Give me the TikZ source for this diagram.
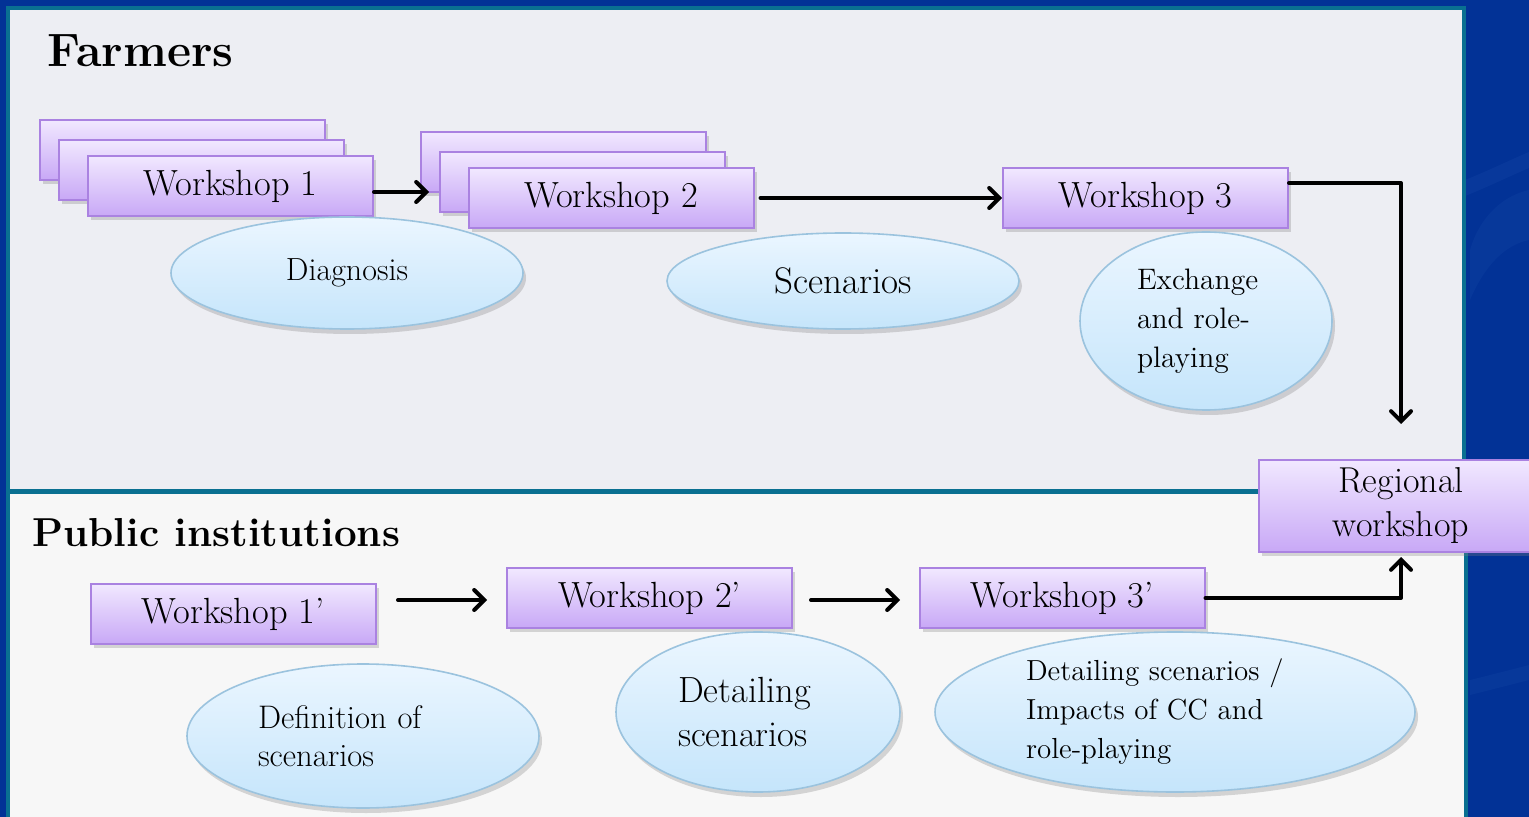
\documentclass[tikz,border=0pt]{standalone}
\usetikzlibrary{shapes.geometric,arrows.meta,shadows,calc}
\definecolor{bgblue}{RGB}{2,50,150}
\definecolor{bgblue2}{RGB}{20,70,165}
\definecolor{teal}{RGB}{10,112,145}
\definecolor{panelA}{RGB}{237,238,243}
\definecolor{panelB}{RGB}{247,247,247}
\definecolor{boxline}{RGB}{170,130,225}
\definecolor{boxtop}{RGB}{241,232,255}
\definecolor{boxbot}{RGB}{200,168,246}
\definecolor{elline}{RGB}{155,195,222}
\definecolor{eltop}{RGB}{235,246,255}
\definecolor{elbot}{RGB}{197,229,251}
\tikzset{
  wbox/.style={rectangle, draw=boxline, line width=1pt, top color=boxtop, bottom color=boxbot,
    minimum width=142.5pt, minimum height=30pt, inner sep=0pt,
    font=\fontsize{18.2}{22}\selectfont,
    drop shadow={opacity=0.3, shadow xshift=1.5pt, shadow yshift=-2pt}},
  ell/.style={ellipse, draw=elline, line width=0.8pt, top color=eltop, bottom color=elbot,
    inner sep=0pt, align=left,
    drop shadow={opacity=0.3, shadow xshift=1.5pt, shadow yshift=-2.5pt}},
  conn/.style={line width=2pt, line cap=round, line join=round,
    -{Straight Barb[length=5pt,width=10pt,line cap=round]}},
  ttl/.style={font=\fontsize{23.4}{28}\selectfont\bfseries, anchor=base west, inner sep=0pt}
}
\begin{document}
\begin{tikzpicture}[x=0.5pt,y=-0.5pt]
\useasboundingbox (0,0) rectangle (1529,817);
% background
\fill[bgblue] (0,0) rectangle (1529,817);
\fill[bgblue2,opacity=0.35] (1465,180) .. controls (1490,170) and (1510,160) .. (1529,152) -- (1529,168) .. controls (1510,176) and (1490,186) .. (1465,196) -- cycle;
\fill[bgblue2,opacity=0.3] (1470,250) .. controls (1480,215) and (1505,195) .. (1529,190) -- (1529,240) .. controls (1505,245) and (1485,265) .. (1470,300) -- cycle;
\fill[bgblue2,opacity=0.3] (1470,680) .. controls (1490,675) and (1510,670) .. (1529,665) -- (1529,680) .. controls (1510,685) and (1490,690) .. (1470,695) -- cycle;
% panels
\filldraw[fill=panelA, draw=teal, line width=2pt] (8,8) rectangle (1464,491);
\filldraw[fill=panelB, draw=teal, line width=2pt] (8,492) rectangle (1466,830);
% titles
\node[ttl] (farm) at (47,67) {Farmers};
\node[ttl, font=\fontsize{20.2}{24}\selectfont\bfseries] (pub) at (32,546) {Public institutions};
% workshop stacks
\node[wbox] (w1a) at (182.5,150) {};
\node[wbox] (w1b) at (201.5,170) {};
\node[wbox] (w1) at (230.5,186) {Workshop 1};
\node[wbox] (w2a) at (563.5,162) {};
\node[wbox] (w2b) at (582.5,182) {};
\node[wbox] (w2) at (611,198) {Workshop 2};
\node[wbox] (w3) at (1145.5,198) {Workshop 3};
\node[wbox] (w1p) at (233,614) {Workshop 1’};
\node[wbox] (w2p) at (649.5,598) {Workshop 2’};
\node[wbox] (w3p) at (1062,598) {Workshop 3’};
% ellipses
\node[ell, minimum width=176pt, minimum height=56pt, font=\fontsize{16}{19}\selectfont] (diag) at (347,273) {Diagnosis};
\node[ell, minimum width=176pt, minimum height=48pt, font=\fontsize{18.5}{22}\selectfont] (scen) at (843,281) {Scenarios};
\node[ell, minimum width=126pt, minimum height=89pt, text width=69pt, font=\fontsize{14.8}{19.5}\selectfont] (exch) at (1206,321) {Exchange\\ and role-\\ playing};
\node[ell, minimum width=176pt, minimum height=72pt, text width=105pt, font=\fontsize{16.3}{19}\selectfont] (defn) at (363,736) {Definition of\\ scenarios};
\node[ell, minimum width=142pt, minimum height=80pt, text width=80pt, font=\fontsize{18.2}{22}\selectfont] (det) at (758,712) {Detailing\\ scenarios};
\node[ell, minimum width=240pt, minimum height=80pt, text width=149pt, font=\fontsize{14.5}{19.5}\selectfont] (imp) at (1175,712) {Detailing scenarios /\\ Impacts of CC and\\ role-playing};
% regional
\node[wbox, minimum width=142pt, minimum height=46pt, align=center, font=\fontsize{18}{22}\selectfont] (reg) at (1401,506) {Regional\\ workshop};
% connectors
\draw[conn] ([yshift=-3pt]w1.east) -- ($([yshift=-3pt]w1.east -| w2b.west)+(-10,0)$);
\draw[conn] ([xshift=3pt]w2.east) -- (w3.west);
\draw[conn] ([yshift=7.5pt]w3.east) -| ([yshift=17.5pt]reg.north);
\draw[conn] (w3p.east) -| ([yshift=-2pt]reg.south);
\coordinate (a1s) at (398,600);
\coordinate (a1e) at (487,600);
\coordinate (a2s) at (811,600);
\coordinate (a2e) at (900,600);
\draw[conn] (a1s) -- (a1e);
\draw[conn] (a2s) -- (a2e);
\end{tikzpicture}
\end{document}
